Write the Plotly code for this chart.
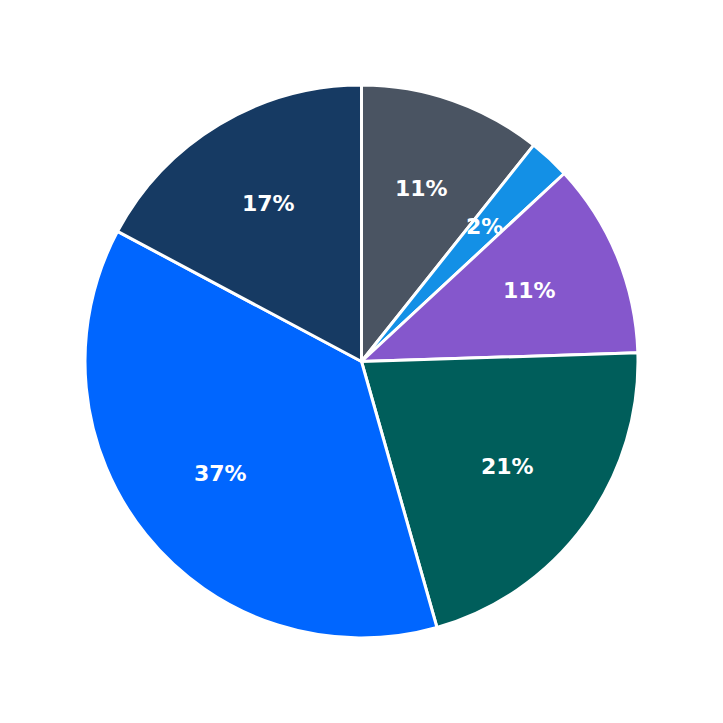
import math
import plotly.graph_objects as go

labels = ["A", "B", "C", "D", "E", "F"]
values = [10.7, 2.4, 11.4, 21.1, 37.2, 17.2]
colors = ["#4a5462", "#1390e6", "#8557cc", "#005e5b", "#0066ff", "#163a63"]

fig = go.Figure(go.Pie(
    labels=labels,
    values=values,
    sort=False,
    direction="clockwise",
    rotation=0,
    marker=dict(colors=colors, line=dict(color="white", width=3)),
    textinfo="none",
    hoverinfo="label+percent",
))

# percentage labels placed at a fixed fraction of the radius, computed from the values
total = sum(values)
label_r = 0.328  # paper units (pie radius = 0.5)
cum = 0.0
for v in values:
    mid = (cum + v / 2) / total * 2 * math.pi
    cum += v
    fig.add_annotation(
        x=0.5 + label_r * math.sin(mid),
        y=0.5 + label_r * math.cos(mid),
        xref="paper", yref="paper",
        text=f"{round(v / total * 100)}%",
        showarrow=False,
        font=dict(family="DejaVu Sans", size=22, color="white", weight="bold"),
        xanchor="center", yanchor="middle",
        yshift=2,
    )

fig.update_layout(
    width=723, height=723,
    margin=dict(l=85, r=85, t=85, b=85),
    showlegend=False,
    paper_bgcolor="white",
    plot_bgcolor="white",
)
fig.write_html("out.html")
